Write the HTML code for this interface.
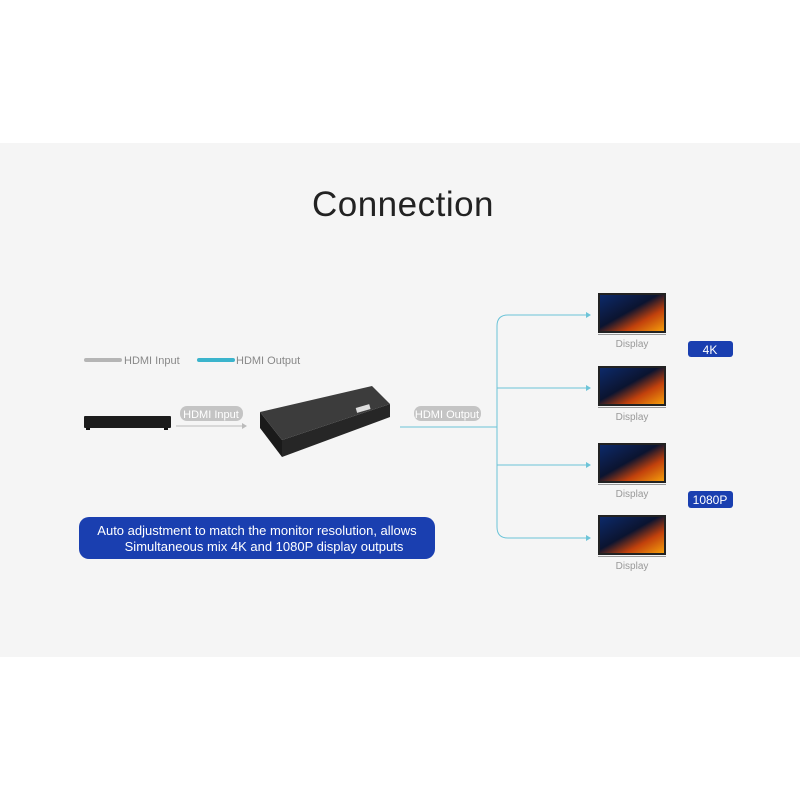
<!DOCTYPE html>
<html><head><meta charset="utf-8"><style>
html,body{margin:0;padding:0;background:#fff;}
svg{display:block;font-family:"Liberation Sans",sans-serif;}
</style></head><body>
<svg width="800" height="800" viewBox="0 0 800 800" xmlns="http://www.w3.org/2000/svg">
<defs>
<linearGradient id="scr" x1="0" y1="0" x2="1" y2="1">
<stop offset="0" stop-color="#0d2a6a"/><stop offset="0.45" stop-color="#0b1430"/><stop offset="0.7" stop-color="#c2410c"/><stop offset="1" stop-color="#f59e0b"/>
</linearGradient>
</defs>
<rect x="0" y="143" width="800" height="514" fill="#f5f5f5"/>
<text x="403" y="216" text-anchor="middle" font-size="35" fill="#222" letter-spacing="0.5">Connection</text>
<!-- legend -->
<rect x="84" y="358" width="38" height="4" rx="2" fill="#b5b5b5"/>
<text x="124" y="364" font-size="11" fill="#888">HDMI Input</text>
<rect x="197" y="358" width="38" height="4" rx="2" fill="#3bb4cc"/>
<text x="236" y="364" font-size="11" fill="#888">HDMI Output</text>
<!-- player -->
<rect x="84" y="416" width="87" height="12" rx="1" fill="#1c1c1c"/>
<rect x="86" y="428" width="4" height="2" fill="#111"/><rect x="164" y="428" width="4" height="2" fill="#111"/>
<!-- input line -->
<line x1="176" y1="426" x2="245" y2="426" stroke="#bbb" stroke-width="1"/>
<path d="M242 423 L247 426 L242 429 Z" fill="#bbb"/>
<rect x="180" y="406" width="63" height="15" rx="7" fill="#c4c4c4"/>
<text x="211" y="418" text-anchor="middle" font-size="11" fill="#fff">HDMI Input</text>
<!-- splitter -->
<polygon points="260,412 282,440 282,457 260,428" fill="#1a1a1a"/>
<polygon points="282,440 390,404 390,417 282,457" fill="#262626"/>
<polygon points="260,412 372,386 390,404 282,440" fill="#3c3c3c"/>
<rect x="356" y="406" width="14" height="5" fill="#ddd" transform="rotate(-16 363 408)"/>
<!-- output -->
<rect x="414" y="406" width="67" height="15" rx="7" fill="#c4c4c4"/>
<text x="447" y="418" text-anchor="middle" font-size="11" fill="#fff">HDMI Output</text>
<g stroke="#6cc4d8" stroke-width="1" fill="none">
<line x1="400" y1="427" x2="497" y2="427"/>
<path d="M587 315 L508 315 Q497 315 497 326 L497 527 Q497 538 508 538 L587 538"/>
<line x1="497" y1="388" x2="587" y2="388"/>
<line x1="497" y1="465" x2="587" y2="465"/>
</g>
<g fill="#6cc4d8">
<path d="M586 312 L591 315 L586 318Z"/><path d="M586 385 L591 388 L586 391Z"/>
<path d="M586 462 L591 465 L586 468Z"/><path d="M586 535 L591 538 L586 541Z"/>
</g>
<!-- displays -->
<g id="d">
<rect x="598" y="293" width="68" height="40" fill="#222"/>
<rect x="600" y="295" width="64" height="36" fill="url(#scr)"/>
<rect x="598" y="334" width="68" height="1" fill="#999"/>
<text x="632" y="347" text-anchor="middle" font-size="10" fill="#999">Display</text>
</g>
<use href="#d" y="73"/>
<use href="#d" y="150"/>
<use href="#d" y="222"/>
<rect x="688" y="341" width="45" height="16" rx="3" fill="#1a3fb0"/>
<text x="710" y="354" text-anchor="middle" font-size="12" fill="#fff">4K</text>
<rect x="688" y="491" width="45" height="17" rx="3" fill="#1a3fb0"/>
<text x="710" y="504" text-anchor="middle" font-size="12" fill="#fff">1080P</text>
<!-- note -->
<rect x="79" y="517" width="356" height="42" rx="10" fill="#1a3fb0"/>
<text x="257" y="535" text-anchor="middle" font-size="13" fill="#fff">Auto adjustment to match the monitor resolution, allows</text>
<text x="264" y="551" text-anchor="middle" font-size="13" fill="#fff">Simultaneous mix 4K and 1080P display outputs</text>
</svg>
</body></html>
